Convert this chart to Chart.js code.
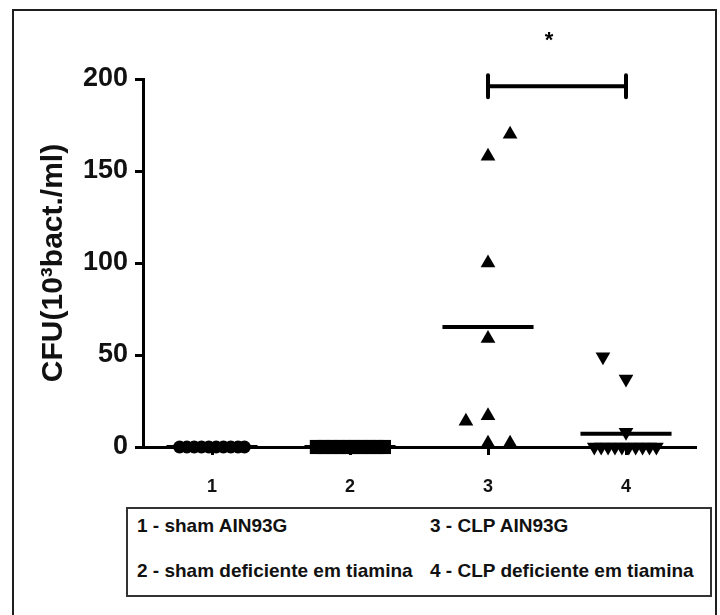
<!DOCTYPE html>
<html lang="pt-br">

<head>
    <meta charset="UTF-8">
    <title>CFU - CLP</title>
    <script src="https://cdn.jsdelivr.net/npm/chart.js"></script>
    <style>
        body {
            margin: 0;
            background: #fff;
        }

        .janela {
            position: relative;
            width: 720px;
            height: 615px;
            overflow: hidden;
            font-family: 'Liberation Sans', Arial, sans-serif;
        }

        .moldura {
            position: absolute;
            left: 12px;
            top: 9px;
            width: 701px;
            height: 650px;
            border: 2px solid #1e1e1e;
        }

        #grafico {
            position: absolute;
            left: 0;
            top: 0;
        }

        .legenda {
            position: absolute;
            left: 126px;
            top: 507px;
            width: 582px;
            height: 86px;
            border: 2px solid #333;
        }

        .legenda span {
            position: absolute;
            font-weight: bold;
            font-size: 19px;
            line-height: 20px;
            color: #111;
            white-space: nowrap;
        }
    </style>
</head>

<body>
    <div class="janela">
        <div class="moldura"></div>
        <canvas id="grafico" width="720" height="500"></canvas>
        <div class="legenda">
            <span style="left: 9px; top: 7px;">1 - sham AIN93G</span>
            <span style="left: 302px; top: 7px;">3 - CLP AIN93G</span>
            <span style="left: 9px; top: 52px;">2 - sham deficiente em tiamina</span>
            <span style="left: 302px; top: 52px;">4 - CLP deficiente em tiamina</span>
        </div>
    </div>
</body>

</html>

<script>

    // valores (CFU, 10^3 bact./ml)
    var grupos = [1, 2, 3, 4]
    var ticksY = [0, 50, 100, 150, 200]

    // 1 - sham AIN93G
    var xSham = [0.765, 0.818, 0.871, 0.924, 0.977, 1.03, 1.083, 1.136, 1.189, 1.235]
    var ySham = [0, 0, 0, 0, 0, 0, 0, 0, 0, 0]

    // 2 - sham deficiente em tiamina
    var xShamDef = [1.76, 1.814, 1.868, 1.922, 1.976, 2.03, 2.084, 2.138, 2.192, 2.246]
    var yShamDef = [0, 0, 0, 0, 0, 0, 0, 0, 0, 0]

    // 3 - CLP AIN93G
    var xClp = [3.16, 3, 3, 3, 2.84, 3, 3, 3.16]
    var yClp = [170, 158, 100, 59, 14, 17, 2, 2]

    // 4 - CLP deficiente em tiamina
    var xClpDef = [3.833, 4, 4, 3.77, 3.82, 3.87, 3.92, 3.97, 4.02, 4.07, 4.12, 4.17, 4.22]
    var yClpDef = [49, 37, 8, 0, 0, 0, 0, 0, 0, 0, 0, 0, 0]

    // comparação significativa (*) entre os grupos 3 e 4
    var comparacao = [3, 4]
    var nivelColchete = 196

    var fonte = "'Liberation Sans', Arial, sans-serif"

    function pontos(xs, ys) {
        var lista = []
        for (var i = 0; i < xs.length; i++) {
            lista.push({ x: xs[i], y: ys[i] })
        }
        return lista
    }

    function media(ys) {
        var soma = 0
        for (var i = 0; i < ys.length; i++) soma += ys[i]
        return soma / ys.length
    }

    function linhaMedia(grupo, ys) {
        var m = media(ys)
        return {
            type: 'line',
            data: [{ x: grupo - 0.33, y: m }, { x: grupo + 0.33, y: m }],
            showLine: true,
            borderColor: '#000',
            borderWidth: 4,
            pointRadius: 0,
            clip: false
        }
    }

    var colchete = {
        id: 'colchete',
        afterDatasetsDraw: function (chart) {
            var ctx = chart.ctx
            var x1 = chart.scales.x.getPixelForValue(comparacao[0])
            var x2 = chart.scales.x.getPixelForValue(comparacao[1])
            var yy = chart.scales.y.getPixelForValue(nivelColchete)
            ctx.save()
            ctx.strokeStyle = '#000'
            ctx.lineWidth = 4
            ctx.lineCap = 'round'
            ctx.beginPath()
            ctx.moveTo(x1, yy)
            ctx.lineTo(x2, yy)
            ctx.moveTo(x1, yy - 11)
            ctx.lineTo(x1, yy + 11)
            ctx.moveTo(x2, yy - 11)
            ctx.lineTo(x2, yy + 11)
            ctx.stroke()
            ctx.fillStyle = '#000'
            ctx.font = 'bold 22px ' + fonte
            ctx.textAlign = 'center'
            ctx.textBaseline = 'alphabetic'
            ctx.fillText('*', (x1 + x2) / 2 - 8, yy - 39)
            ctx.restore()
        }
    }

    const ctx = document.getElementById('grafico');

    var meuGrafico = new Chart(ctx, {
        type: 'scatter',
        data: {
            datasets: [
                { data: pontos(xSham, ySham), pointStyle: 'circle', pointRadius: 6.5, backgroundColor: '#000', borderWidth: 0, clip: false },
                { data: pontos(xShamDef, yShamDef), pointStyle: 'rect', pointRadius: 10, backgroundColor: '#000', borderWidth: 0, clip: false },
                { data: pontos(xClp, yClp), pointStyle: 'triangle', pointRadius: 8.5, backgroundColor: '#000', borderWidth: 0, clip: false },
                { data: pontos(xClpDef, yClpDef), pointStyle: 'triangle', rotation: 180, pointRadius: 8.5, backgroundColor: '#000', borderWidth: 0, clip: false },
                linhaMedia(grupos[0], ySham),
                linhaMedia(grupos[1], yShamDef),
                linhaMedia(grupos[2], yClp),
                linhaMedia(grupos[3], yClpDef)
            ]
        },
        options: {
            responsive: false,
            animation: false,
            layout: {
                padding: { left: 20, right: 25, top: 79, bottom: 0 }
            },
            plugins: {
                legend: { display: false },
                tooltip: { enabled: false }
            },
            scales: {
                x: {
                    type: 'linear',
                    min: 0.5,
                    max: 4.5,
                    afterBuildTicks: function (scale) {
                        scale.ticks = grupos.map(function (g) { return { value: g } })
                    },
                    afterFit: function (scale) {
                        scale.height = 53
                    },
                    border: { color: '#000', width: 3 },
                    grid: { drawOnChartArea: false, color: '#000', lineWidth: 3, tickLength: 8 },
                    ticks: {
                        color: '#111',
                        padding: 21,
                        font: { family: fonte, size: 18, weight: 'bold' }
                    }
                },
                y: {
                    min: 0,
                    max: 200,
                    afterBuildTicks: function (scale) {
                        scale.ticks = ticksY.map(function (v) { return { value: v } })
                    },
                    afterFit: function (scale) {
                        scale.width = 123
                    },
                    border: { color: '#000', width: 3 },
                    grid: { drawOnChartArea: false, color: '#000', lineWidth: 3, tickLength: 8 },
                    ticks: {
                        color: '#111',
                        padding: 7,
                        font: { family: fonte, size: 27, weight: 'bold' }
                    },
                    title: {
                        display: true,
                        text: 'CFU(10³bact./ml)',
                        color: '#111',
                        padding: { top: 16, bottom: 0 },
                        font: { family: fonte, size: 30, weight: 'bold' }
                    }
                }
            }
        },
        plugins: [colchete]
    });

</script>
